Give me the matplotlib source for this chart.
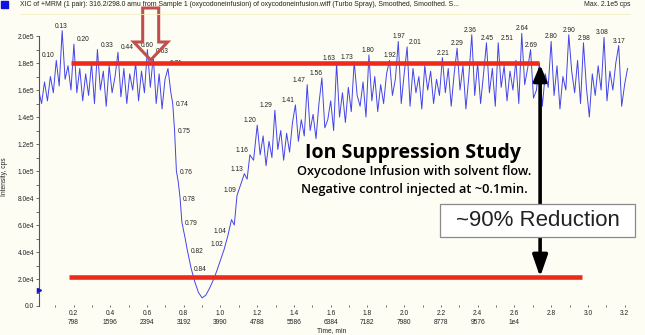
import numpy as np
import matplotlib.pyplot as plt
from matplotlib.patches import Polygon, Rectangle
from matplotlib.transforms import IdentityTransform

# XIC trace, intensities in 1e3 cps
pre_start, scan_step = 0.010, 0.016
pre_intensity = [160, 150, 166, 152, 170, 158, 182, 163, 204, 168,
                 178, 160, 194, 158, 176, 152, 172, 156, 180, 150,
                 190, 160, 174, 148, 178, 158, 170, 188, 155, 176,
                 150, 172, 160, 180, 152, 174, 158, 190, 162, 185,
                 150, 172, 146, 168, 176]
dip_time = [0.730, 0.740, 0.750, 0.760, 0.770, 0.780, 0.790, 0.805, 0.820, 0.840,
            0.860, 0.880, 0.900, 0.920, 0.940, 0.960, 0.980, 1.000, 1.020, 1.040,
            1.060, 1.075, 1.090, 1.110, 1.130, 1.145, 1.160, 1.180]
dip_intensity = [158, 150, 130, 100, 92, 80, 62, 52, 41, 28,
                 18, 10, 6, 8, 13, 19, 26, 34, 42, 52,
                 64, 60, 82, 90, 98, 94, 112, 108]
post_start = 1.200
post_intensity = [134, 112, 126, 104, 122, 110, 145, 116, 130, 108,
                  128, 114, 136, 149, 122, 138, 126, 164, 130, 142,
                  124, 150, 169, 132, 138, 152, 130, 180, 140, 158,
                  136, 162, 144, 181, 156, 148, 166, 140, 186, 152,
                  170, 144, 164, 150, 172, 182, 156, 168, 196, 150,
                  172, 192, 148, 176, 158, 170, 146, 178, 160, 174,
                  150, 168, 156, 184, 158, 176, 148, 172, 191, 160,
                  178, 146, 170, 201, 156, 180, 150, 172, 195, 158,
                  176, 148, 195, 162, 178, 152, 174, 160, 182, 150,
                  202, 164, 176, 190, 154, 160, 180, 148, 172, 162,
                  196, 156, 178, 146, 170, 160, 201, 174, 158, 182,
                  150, 195, 162, 140, 172, 156, 178, 160, 199, 152,
                  174, 160, 180, 193, 148, 164, 176]

# labelled apex times
peak_times = [0.10, 0.13, 0.20, 0.33, 0.44, 0.60, 0.63, 0.71,
              0.74, 0.75, 0.76, 0.78, 0.79, 0.82, 0.84,
              1.02, 1.04, 1.09, 1.13, 1.16, 1.20,
              1.29, 1.41, 1.47, 1.56, 1.63, 1.73,
              1.80, 1.92, 1.97, 2.01,
              2.21, 2.29, 2.36, 2.45, 2.51,
              2.64, 2.69, 2.80, 2.90, 2.98, 3.08, 3.17]
label_side = "lcrrrcrr" "RRRRRRR" "llllll" "llllll" "cccr" "ccccr" "ccccccc"

x_major = [0.2, 0.4, 0.6, 0.8, 1.0, 1.2, 1.4, 1.6, 1.8, 2.0, 2.2, 2.4, 2.6, 2.8, 3.0, 3.2]
x_minor = [0.1, 0.3, 0.5, 0.7, 0.9, 1.1, 1.3, 1.5, 1.7, 1.9, 2.1, 2.3, 2.5, 2.7, 2.9, 3.1]
scan_no = ['798', '1596', '2394', '3192', '3990', '4788', '5586', '6384',
           '7182', '7980', '8778', '9576', '1e4', '', '', '']
y_major = [0, 2e4, 4e4, 6e4, 8e4, 1e5, 1.2e5, 1.4e5, 1.6e5, 1.8e5, 2e5]
y_labels = ['0.0', '2.0e4', '4.0e4', '6.0e4', '8.0e4', '1.0e5',
            '1.2e5', '1.4e5', '1.6e5', '1.8e5', '2.0e5']

baseline_level = 1.8e5
suppressed_level = 2.15e4
threshold_level = 1.15e4

W, H = 645, 335
plt.rcParams['font.family'] = ['Liberation Sans', 'DejaVu Sans']
fig = plt.figure(figsize=(W / 100, H / 100), dpi=100)
fig.patch.set_facecolor('#fdfdf4')


def fx(px):
    return px / W


def fy(py):
    return 1 - py / H


ax = fig.add_axes([fx(39), fy(306), fx(636) - fx(39), fy(20) - fy(306)])
ax.set_facecolor('none')
ax.set_xlim(0.012, 3.262)
ax.set_ylim(0, 2.119e5)

t = np.concatenate([pre_start + scan_step * np.arange(len(pre_intensity)),
                    dip_time,
                    post_start + scan_step * np.arange(len(post_intensity))])
inten = np.concatenate([pre_intensity, dip_intensity, post_intensity]) * 1e3
ax.plot(t, inten, color='#2323e8', lw=0.7, alpha=0.85, zorder=3)

# apex labels
placing = {'c': ('center', 'bottom', 0, 1), 'r': ('left', 'bottom', 3, 1),
           'l': ('right', 'bottom', -1, 1), 'R': ('left', 'center', 3, -1)}
for tl, side in zip(peak_times, label_side):
    yl = inten[np.abs(t - tl) < 0.0085].max()
    ha, va, dx, dy = placing[side]
    ax.annotate(f'{tl:.2f}', xy=(tl, yl), xytext=(dx, dy), textcoords='offset pixels',
                ha=ha, va=va, fontsize=4.8, color='#222222', zorder=4)

# axes styling
for s in ['top', 'right', 'bottom']:
    ax.spines[s].set_visible(False)
ax.spines['left'].set_bounds(0, 2.0e5)
ax.spines['left'].set_color('#555555')
ax.spines['left'].set_linewidth(0.8)
ax.set_xticks(x_major)
ax.set_xticklabels([f'{x:.1f}\n{s}' if s else f'{x:.1f}' for x, s in zip(x_major, scan_no)],
                   linespacing=1.4)
ax.set_xticks(x_minor, minor=True)
ax.set_yticks(y_major)
ax.set_yticklabels(y_labels)
ax.set_yticks(np.arange(1e4, 2e5, 2e4), minor=True)
ax.tick_params(axis='both', which='both', labelsize=4.8, labelcolor='#222222',
               color='#555555', width=0.6, length=2)
ax.tick_params(axis='x', which='both', direction='inout', pad=2)
ax.tick_params(axis='y', which='both', pad=1.5)
ax.set_xlabel('Time, min', fontsize=4.8, color='#222222')
ax.xaxis.set_label_coords((332 - 39) / 597, -0.075)
ax.set_ylabel('Intensity, cps', fontsize=4.8, color='#222222')
ax.yaxis.set_label_coords(-0.052, 0.451)
ax.plot(0.012, threshold_level, marker='>', ms=3, color='#1515d0', clip_on=False, zorder=5)

# header
fig.patches.append(Rectangle((1, H - 8), 7, 7, transform=IdentityTransform(),
                             color='#1010e0'))
fig.text(fx(20), fy(4.5), 'XIC of +MRM (1 pair): 316.2/298.0 amu from Sample 1 (oxycodoneinfusion) '
         'of oxycodoneinfusion.wiff (Turbo Spray), Smoothed, Smoothed. S...',
         fontsize=4.95, color='#222222', ha='left', va='center')
fig.text(fx(630), fy(4.5), 'Max. 2.1e5 cps', fontsize=4.95, color='#222222', ha='right', va='center')
fig.lines.append(plt.Line2D([fx(20), fx(630)], [fy(14), fy(14)], transform=fig.transFigure,
                            color='#f2eec4', lw=0.6))

# reference levels
red = '#ee2a1c'
ax.hlines(baseline_level, 0.186, 2.735, color=red, lw=3.3, zorder=5)
ax.hlines(suppressed_level, 0.175, 2.968, color=red, lw=3.3, zorder=5)

# reduction arrows and box
arrow_t = 2.74
box_lo, box_hi = 5.11e4, 7.56e4
ax.annotate('', xy=(arrow_t, baseline_level - 1.2e3), xytext=(arrow_t, box_hi),
            arrowprops=dict(arrowstyle='-|>,head_length=0.95,head_width=0.4', lw=2.6,
                            color='black', mutation_scale=10, shrinkA=0, shrinkB=0), zorder=6)
ax.annotate('', xy=(arrow_t, suppressed_level), xytext=(arrow_t, box_lo),
            arrowprops=dict(arrowstyle='-|>,head_length=1.3,head_width=0.45', lw=2.6,
                            color='black', mutation_scale=10, shrinkA=0, shrinkB=0), zorder=6)
ax.add_patch(Rectangle((2.195, box_lo), 3.256 - 2.195, box_hi - box_lo, facecolor='white',
                       edgecolor='#8a8a8a', lw=0.9, zorder=7, clip_on=False))
ax.text((2.195 + 3.256) / 2, (box_lo + box_hi) / 2, '~90% Reduction', ha='center', va='center',
        fontsize=16, color='#222222', zorder=8)

# injection marker: hollow block arrow pointing down
tip_x, tip_y = 150.7, 60
shaft_hw, head_hw, head_top, shaft_top = 8, 17, 42, 8
verts = [(tip_x - shaft_hw, shaft_top), (tip_x + shaft_hw, shaft_top), (tip_x + shaft_hw, head_top),
         (tip_x + head_hw, head_top), (tip_x, tip_y), (tip_x - head_hw, head_top),
         (tip_x - shaft_hw, head_top)]
fig.patches.append(Polygon([(x, H - y) for x, y in verts], closed=True, facecolor='none',
                           edgecolor='#c0504d', lw=2.2, joinstyle='miter',
                           transform=IdentityTransform()))

# study notes
fig.text(fx(413), fy(153), 'Ion Suppression Study', family='Open Sans', weight='bold',
         fontsize=14, color='black', ha='center', va='center')
fig.text(fx(414), fy(172), 'Oxycodone Infusion with solvent flow.', family='Open Sans',
         weight='semibold', fontsize=9.2, color='black', ha='center', va='center')
fig.text(fx(414), fy(189), 'Negative control injected at ~0.1min.', family='Open Sans',
         weight='semibold', fontsize=9.2, color='black', ha='center', va='center')

fig.savefig('out.png', dpi=100, facecolor=fig.get_facecolor())
